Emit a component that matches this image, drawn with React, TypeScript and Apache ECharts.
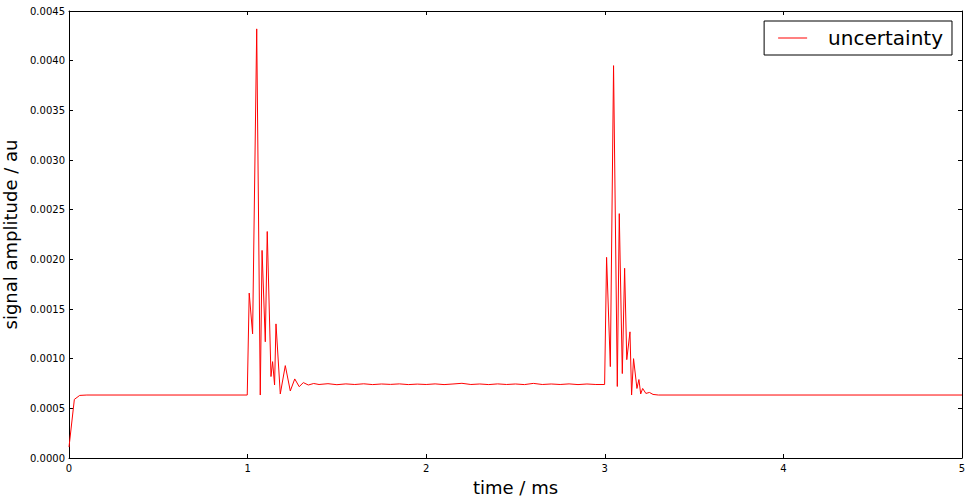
import { useEffect, useRef } from 'react';
import * as echarts from 'echarts';

// time (ms) and uncertainty (au)
const times = [
  0, 0.03, 0.06, 0.1, 0.998,
  1.009, 1.028, 1.051, 1.071, 1.081, 1.099, 1.11, 1.131, 1.14, 1.151, 1.159,
  1.183, 1.211, 1.239, 1.264, 1.289, 1.312, 1.34, 1.37,
  1.4, 1.45, 1.5, 1.55, 1.6, 1.65, 1.7, 1.75, 1.8, 1.85, 1.9, 1.95,
  2.0, 2.05, 2.1, 2.15, 2.2, 2.25, 2.3, 2.35, 2.4, 2.45, 2.5, 2.55,
  2.6, 2.65, 2.7, 2.75, 2.8, 2.85, 2.9, 2.95, 2.999,
  3.01, 3.031, 3.049, 3.07, 3.081, 3.098, 3.111, 3.123, 3.141, 3.15,
  3.161, 3.18, 3.191, 3.201, 3.212, 3.23, 3.25, 3.27, 3.3, 5.0,
];
const uncertainty = [
  0.00011, 0.00059, 0.00063, 0.000634, 0.000634,
  0.00166, 0.00125, 0.00432, 0.000634, 0.00209, 0.00117, 0.00228, 0.00082, 0.00097, 0.000735, 0.00135,
  0.000645, 0.00093, 0.000675, 0.000796, 0.000718, 0.000759, 0.000735, 0.00075,
  0.00074, 0.000748, 0.000738, 0.000746, 0.00074, 0.000747, 0.000739, 0.000745, 0.000741, 0.000746, 0.000739, 0.000744,
  0.00074, 0.000746, 0.000739, 0.000745, 0.000752, 0.00074, 0.000745, 0.000739, 0.000746, 0.00074, 0.000745, 0.000739,
  0.000751, 0.00074, 0.000745, 0.00074, 0.000746, 0.000739, 0.000745, 0.00074, 0.00074,
  0.00202, 0.00092, 0.00395, 0.00072, 0.00246, 0.00085, 0.00191, 0.00099, 0.00127, 0.000634,
  0.001, 0.0007, 0.00079, 0.000645, 0.0007, 0.00065, 0.00066, 0.00064, 0.000634, 0.000634,
];

const font = 'DejaVu Sans';

export default function App() {
  const ref = useRef<HTMLDivElement>(null);

  useEffect(() => {
    document.body.style.margin = '0';
    if (!ref.current) return;
    const chart = echarts.init(ref.current, undefined, { renderer: 'svg' });

    const tickStyle = { show: true, inside: true, length: 4, lineStyle: { color: '#000' } };
    const lineStyle = { show: true, onZero: false, lineStyle: { color: '#000', width: 1 } };

    chart.setOption({
      animation: false,
      backgroundColor: '#fff',
      textStyle: { fontFamily: font },
      grid: { left: 69, right: 10, top: 11, bottom: 44, outerBoundsMode: 'none', containLabel: false },
      legend: {
        right: 20,
        top: 21,
        orient: 'vertical',
        borderColor: '#000',
        borderWidth: 1,
        borderRadius: 0,
        padding: [7, 9, 7, 14],
        itemWidth: 29,
        itemHeight: 1,
        icon: 'rect',
        textStyle: { fontFamily: font, fontSize: 20, color: '#000', padding: [0, 0, 0, 16] },
        data: ['uncertainty'],
      },
      xAxis: [
        {
          type: 'value',
          min: 0,
          max: 5,
          interval: 1,
          name: 'time / ms',
          nameLocation: 'middle',
          nameGap: 20,
          nameTextStyle: { fontFamily: font, fontSize: 18, color: '#000' },
          axisLine: lineStyle,
          axisTick: tickStyle,
          axisLabel: { fontFamily: font, fontSize: 10, color: '#000', margin: 5 },
          splitLine: { show: false },
        },
        {
          type: 'value',
          position: 'top',
          min: 0,
          max: 5,
          interval: 1,
          axisLine: lineStyle,
          axisTick: tickStyle,
          axisLabel: { show: false },
          splitLine: { show: false },
        },
      ],
      yAxis: [
        {
          type: 'value',
          min: 0,
          max: 0.0045,
          interval: 0.0005,
          name: 'signal amplitude / au',
          nameLocation: 'middle',
          nameGap: 44,
          nameTextStyle: { fontFamily: font, fontSize: 18, color: '#000' },
          axisLine: lineStyle,
          axisTick: tickStyle,
          axisLabel: {
            fontFamily: font,
            fontSize: 10,
            color: '#000',
            margin: 4,
            formatter: (v: number) => v.toFixed(4),
          },
          splitLine: { show: false },
        },
        {
          type: 'value',
          position: 'right',
          min: 0,
          max: 0.0045,
          interval: 0.0005,
          axisLine: lineStyle,
          axisTick: tickStyle,
          axisLabel: { show: false },
          splitLine: { show: false },
        },
      ],
      series: [
        {
          name: 'uncertainty',
          type: 'line',
          data: times.map((t, i) => [t, uncertainty[i]]),
          symbol: 'none',
          lineStyle: { color: '#ff0000', width: 1 },
          itemStyle: { color: '#ff0000' },
        },
      ],
    });

    return () => chart.dispose();
  }, []);

  return <div ref={ref} style={{ width: 972, height: 502 }} />;
}
